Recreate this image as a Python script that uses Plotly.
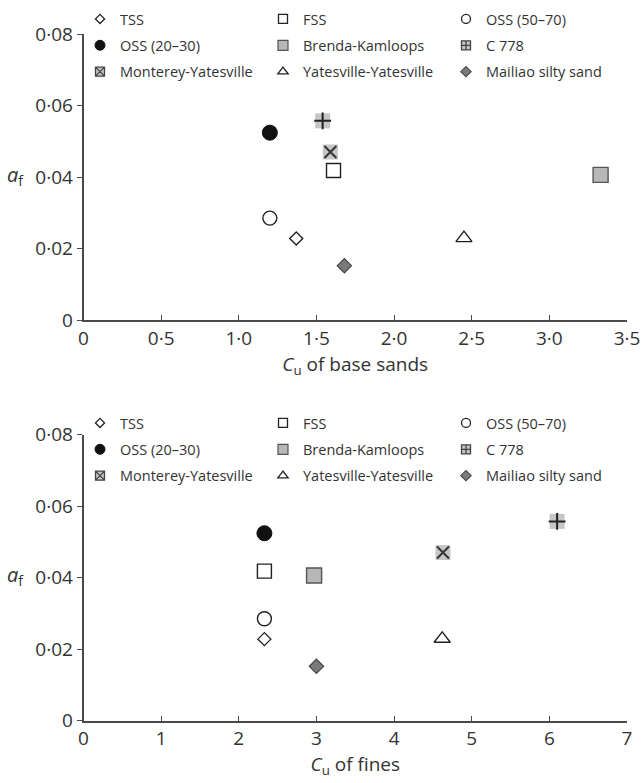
import plotly.graph_objects as go

# Sample names (legend order, row by row)
names = ["TSS", "FSS", "OSS (50–70)", "OSS (20–30)", "Brenda-Kamloops", "C 778",
         "Monterey-Yatesville", "Yatesville-Yatesville", "Mailiao silty sand"]

# a_f values
a_f = [0.0228, 0.0418, 0.0285, 0.0524, 0.0406, 0.0557, 0.0470, 0.0229, 0.0152]

# Cu of the base sands and of the fines
cu_base = [1.37, 1.61, 1.20, 1.20, 3.33, 1.54, 1.59, 2.45, 1.68]
cu_fines = [2.33, 2.33, 2.33, 2.33, 2.97, 6.10, 4.63, 4.62, 3.00]

# Axis ticks
x1_ticks = [0, 0.5, 1.0, 1.5, 2.0, 2.5, 3.0, 3.5]
x1_labels = ["0", "0·5", "1·0", "1·5", "2·0", "2·5", "3·0", "3·5"]
x2_ticks = [0, 1, 2, 3, 4, 5, 6, 7]
x2_labels = ["0", "1", "2", "3", "4", "5", "6", "7"]
y_ticks = [0, 0.02, 0.04, 0.06, 0.08]
y_labels = ["0", "0·02", "0·04", "0·06", "0·08"]

INK = "#333333"
AXIS = "#4a4a4a"
LGRAY = "#c6c6c6"

# marker style per sample: (symbol, size, fill, line colour, line width)
styles = [
    ("diamond", 10, "white", "#222222", 1.4),
    ("square", 14, "white", "#222222", 1.4),
    ("circle", 14, "white", "#222222", 1.4),
    ("circle", 15, "#111111", "#111111", 1.0),
    ("square", 15, "#b7b7b7", "#555555", 1.4),
    ("cross-thin", 12, "#222222", "#222222", 2.0),
    ("x-thin", 12, "#333333", "#333333", 2.0),
    ("triangle-up", 14, "white", "#222222", 1.4),
    ("diamond", 11, "#7a7a7a", "#444444", 1.2),
]
# smaller key symbols: (symbol, size, fill, line colour, line width)
key_styles = [
    ("diamond", 7, "white", "#222222", 1.3),
    ("square", 9, "white", "#222222", 1.3),
    ("circle", 9, "white", "#222222", 1.3),
    ("circle", 10, "#111111", "#111111", 1.0),
    ("square", 10, "#b7b7b7", "#555555", 1.2),
    ("square-cross", 9, LGRAY, "#444444", 1.3),
    ("square-x", 9, LGRAY, "#444444", 1.3),
    ("triangle-up", 9, "white", "#222222", 1.3),
    ("diamond", 8, "#7a7a7a", "#444444", 1.1),
]
# samples drawn on a light grey square backing
backed = {"C 778", "Monterey-Yatesville"}

W, H = 642, 783
FONT = "Open Sans"

fig = go.Figure()

panels = [
    (cu_base, "x", "y", 0),
    (cu_fines, "x2", "y2", 3),
]

for xs, xa, ya, lg0 in panels:
    for i, name in enumerate(names):
        sym, size, fill, lc, lw = styles[i]
        if name in backed:
            fig.add_trace(go.Scatter(
                x=[xs[i]], y=[a_f[i]], xaxis=xa, yaxis=ya, mode="markers",
                marker=dict(symbol="square", size=15, color=LGRAY,
                            line=dict(width=0)),
                showlegend=False, hoverinfo="skip", cliponaxis=False))
        fig.add_trace(go.Scatter(
            x=[xs[i]], y=[a_f[i]], xaxis=xa, yaxis=ya, mode="markers",
            name=name, showlegend=False,
            marker=dict(symbol=sym, size=size, color=fill,
                        line=dict(color=lc, width=lw)),
            cliponaxis=False))
    # key entries (no data of their own)
    for i, name in enumerate(names):
        sym, size, fill, lc, lw = key_styles[i]
        col = i % 3
        legend_id = "legend" if (lg0 + col) == 0 else f"legend{lg0 + col + 1}"
        fig.add_trace(go.Scatter(
            x=[None], y=[None], xaxis=xa, yaxis=ya, mode="markers",
            name=name, legend=legend_id, legendgroup=f"{ya}-{name}",
            marker=dict(symbol=sym, size=size, color=fill,
                        line=dict(color=lc, width=lw)),
            hoverinfo="skip"))


def px_x(p):
    return p / W


def px_y(p):
    return 1 - p / H


x_dom = [px_x(83.5), px_x(627)]
top_dom = [px_y(320), px_y(34)]
bot_dom = [px_y(720.7), px_y(434.5)]

axis_common = dict(
    showgrid=False, zeroline=False, showline=True, linecolor=AXIS, linewidth=1.5,
    tickcolor=AXIS, tickwidth=1.3, ticklen=5,
    tickfont=dict(family=FONT, size=19, color=INK),
)

fig.update_layout(
    width=W, height=H, margin=dict(l=0, r=0, t=0, b=0, autoexpand=False),
    paper_bgcolor="white", plot_bgcolor="white",
    font=dict(family=FONT, color=INK),
    xaxis=dict(domain=x_dom, anchor="y", range=[0, 3.5], tickvals=x1_ticks,
               ticktext=x1_labels, ticks="inside",
               title=dict(text="<i>C</i><sub>u</sub> of base sands",
                          font=dict(family=FONT, size=19, color=INK), standoff=8),
               **axis_common),
    yaxis=dict(domain=top_dom, anchor="x", range=[0, 0.08], tickvals=y_ticks,
               ticktext=y_labels, ticks="outside", **axis_common),
    xaxis2=dict(domain=x_dom, anchor="y2", range=[0, 7], tickvals=x2_ticks,
                ticktext=x2_labels, ticks="inside",
                title=dict(text="<i>C</i><sub>u</sub> of fines",
                           font=dict(family=FONT, size=19, color=INK), standoff=7),
                **axis_common),
    yaxis2=dict(domain=bot_dom, anchor="x2", range=[0, 0.08], tickvals=y_ticks,
                ticktext=y_labels, ticks="outside", **axis_common),
)

# three key columns above each panel
col_x = [80, 263, 446]
legend_top = [3, 407]
for p in range(2):
    for c in range(3):
        k = p * 3 + c
        key = "legend" if k == 0 else f"legend{k + 1}"
        fig.update_layout({key: dict(
            x=px_x(col_x[c]), y=px_y(legend_top[p]), xanchor="left", yanchor="top",
            orientation="v", tracegroupgap=4.5, itemsizing="trace",
            bgcolor="rgba(0,0,0,0)", borderwidth=0,
            font=dict(family=FONT, size=14.5, color=INK),
        )})

# horizontal a_f labels beside the y axes
for yref in ["y", "y2"]:
    fig.add_annotation(
        text="<i>a</i><sub>f</sub>", xref="paper", yref=yref, x=px_x(5), y=0.0405,
        xanchor="left", yanchor="middle", showarrow=False,
        font=dict(family=FONT, size=20, color=INK))

fig.write_html("out.html")
